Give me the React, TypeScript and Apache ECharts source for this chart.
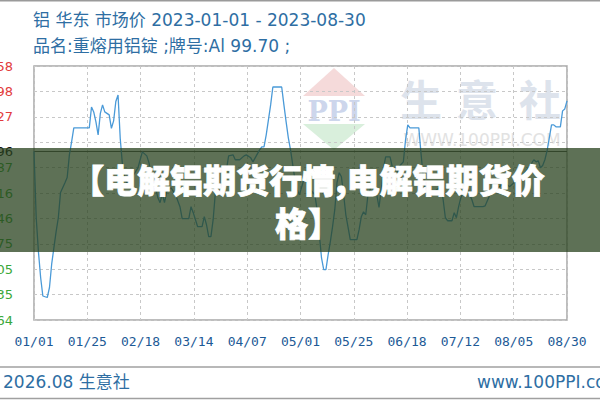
import React, { useEffect, useRef } from 'react';
import * as echarts from 'echarts';

// ---- data ----
const days = [0,1,2,3,4,6,7,8,9,10,11,12,14,15,16,17,18,25,26,27,28,29,30,31,32,34,35,36,37,38,39,40,41,42,44,45,47,48,49,51,52,53,55,56,57,58,59,60,62,64,66,67,70,71,72,74,76,77,78,79,80,81,82,84,86,87,88,90,91,93,95,96,98,99,100,102,103,104,105,106,107,108,112,113,114,115,116,117,118,119,120,122,123,124,125,127,128,130,131,132,133,134,135,136,137,138,139,140,141,143,146,147,148,149,150,151,152,153,154,155,156,157,158,159,161,162,163,164,165,167,168,169,170,174,175,176,177,178,180,182,184,185,186,187,189,190,191,192,193,194,196,197,198,199,203,204,206,208,211,213,215,217,219,220,222,224,226,227,228,229,230,231,232,233,234,235,236,238,239,240,241];
const prices = [18696,18250,18023,17849,17725,17715,17782,17940,18049,18157,18250,18420,18485,18520,18672,18759,18853,18853,18993,18960,18893,18806,18950,19007,18960,18940,18850,18900,19030,19074,18780,18605,18518,18480,18495,18538,18585,18639,18692,18665,18618,18538,18451,18384,18351,18410,18351,18424,18451,18404,18324,18244,18244,18324,18284,18190,18190,18257,18203,18123,18123,18237,18418,18465,18505,18572,18665,18672,18639,18639,18665,18672,18652,18625,18652,18705,18726,18726,18806,18906,19007,19127,19127,19007,18893,18786,18705,18605,18505,18438,18404,18505,18505,18458,18438,18404,18304,17980,17902,17902,18003,18090,18190,18304,18485,18552,18525,18404,18270,18103,18103,18170,18257,18290,18270,18404,18438,18538,18552,18404,18320,18438,18580,18659,18659,18592,18525,18552,18592,18625,18772,18873,18853,18853,18680,18525,18430,18404,18404,18438,18458,18371,18250,18230,18230,18284,18250,18324,18384,18418,18458,18404,18371,18324,18324,18330,18400,18440,18465,18485,18458,18485,18505,18525,18552,18592,18639,18625,18632,18585,18600,18639,18700,18786,18873,18873,18860,18860,18967,18980,19034];

const xTickLabels = ['01/01','01/25','02/18','03/14','04/07','05/01','05/25','06/18','07/12','08/05','08/30'];
const X_MAX = 241;
const X_STEP = 24.1;

const yTickValues = [17564,17735,17905,18075,18246,18416,18587,18757,18927,19098,19268];
const yTickLabels = ['17564','17735','17905','18075','18246','18416','18587','','18927','19098','19258'];
const pctTickLabels = ['-6.05','-5.14','-4.23','-3.32','-2.41','-1.50','-0.58','','1.24','2.15','3.06'];
const BASE_PRICE = 18696;
const BASE_PRICE_LABEL = '18696';
const BASE_PCT_LABEL = '0.00';

const titleLine1 = '铝 华东 市场价 2023-01-01 - 2023-08-30';
const titleLine2 = '品名:重熔用铝锭 ;牌号:Al 99.70 ;';
const footerLeft = '2026.08 生意社';
const footerRight = 'www.100PPI.com';
const bannerLines = ['【电解铝期货行情,电解铝期货价', '格】'];
const watermarkChars = ['生', '意', '社'];
const watermarkUrl = 'WWW.100PPI.COM';
const logoText = 'PPI';

const RED = '#e23b3b';
const GREEN = '#3aa83a';
const BLUE_TEXT = '#2e6ea3';
const LATIN_CJK = '"DejaVu Sans", "Noto Sans CJK SC", sans-serif';

function levelColor(v: number) {
  if (v > BASE_PRICE) return RED;
  if (v < BASE_PRICE) return GREEN;
  return '#111';
}

export default function App() {
  const ref = useRef<HTMLDivElement>(null);
  useEffect(() => {
    if (!ref.current) return;
    const chart = echarts.init(ref.current, undefined, { renderer: 'svg' });

    const markData: any[] = [];
    yTickValues.forEach((v, i) => {
      markData.push({
        yAxis: v,
        lineStyle: { type: [3, 3], color: '#c8c8c8', width: 1 },
        label: {
          show: yTickLabels[i] !== '',
          position: 'start',
          distance: 21,
          formatter: yTickLabels[i] || ' ',
          color: levelColor(v),
          fontFamily: '"DejaVu Sans", sans-serif',
          fontSize: 13,
        },
      });
      markData.push({
        yAxis: v,
        lineStyle: { opacity: 0, width: 0 },
        label: {
          show: pctTickLabels[i] !== '',
          position: 'end',
          distance: 6,
          formatter: pctTickLabels[i] || ' ',
          color: levelColor(v),
          fontFamily: '"DejaVu Sans Mono", monospace',
          fontSize: 13,
        },
      });
    });
    markData.push({
      yAxis: BASE_PRICE,
      lineStyle: { type: 'solid', color: '#555', width: 1 },
      label: {
        show: true, position: 'start', distance: 21, formatter: BASE_PRICE_LABEL,
        color: '#111', fontFamily: '"DejaVu Sans", sans-serif', fontSize: 13,
      },
    });
    markData.push({
      yAxis: BASE_PRICE,
      lineStyle: { opacity: 0, width: 0 },
      label: {
        show: true, position: 'end', distance: 6, formatter: BASE_PCT_LABEL,
        color: '#111', fontFamily: '"DejaVu Sans Mono", monospace', fontSize: 13,
      },
    });

    const option: any = {
      animation: false,
      backgroundColor: '#fff',
      grid: {
        left: 34, right: 33, top: 66, bottom: 80,
        show: true, borderColor: '#a8a8a8', borderWidth: 1.5, backgroundColor: 'transparent',
      },
      xAxis: {
        type: 'value', min: 0, max: X_MAX, interval: X_STEP,
        axisLine: { show: false }, axisTick: { show: false },
        splitLine: { show: true, lineStyle: { type: [3, 3], color: '#c8c8c8', width: 1 } },
        axisLabel: {
          margin: 15, color: '#1d5a96', fontSize: 13,
          fontFamily: '"DejaVu Sans Mono", monospace',
          formatter: (v: number) => xTickLabels[Math.round(v / X_STEP)] ?? '',
        },
      },
      yAxis: {
        type: 'value', min: yTickValues[0], max: yTickValues[yTickValues.length - 1],
        axisLine: { show: false }, axisTick: { show: false },
        axisLabel: { show: false }, splitLine: { show: false },
      },
      series: [{
        type: 'line',
        data: days.map((d, i) => [d, prices[i]]),
        symbol: 'none',
        lineStyle: { color: '#4a9ad8', width: 1.3 },
        z: 5,
        markLine: { silent: true, symbol: 'none', animation: false, data: markData },
      }],
      graphic: [
        { type: 'line', shape: { x1: 0, y1: 0.75, x2: 600, y2: 0.75 }, style: { stroke: '#9a9a9a', lineWidth: 1.5 }, z: 1 },
        { type: 'line', shape: { x1: 0, y1: 367, x2: 600, y2: 367 }, style: { stroke: '#a0a0a0', lineWidth: 1.5 }, z: 1 },
        { type: 'line', shape: { x1: 0, y1: 398.5, x2: 600, y2: 398.5 }, style: { stroke: '#a0a0a0', lineWidth: 1.5 }, z: 1 },
        { type: 'text', x: 33, y: 20, style: { text: titleLine1, fill: BLUE_TEXT, font: `17px ${LATIN_CJK}`, textVerticalAlign: 'middle' }, z: 1 },
        { type: 'text', x: 33, y: 46, style: { text: titleLine2, fill: BLUE_TEXT, font: `17px ${LATIN_CJK}`, textVerticalAlign: 'middle' }, z: 1 },
        { type: 'text', x: 3, y: 382, style: { text: footerLeft, fill: BLUE_TEXT, font: `17px ${LATIN_CJK}`, textVerticalAlign: 'middle' }, z: 1 },
        { type: 'text', x: 477, y: 382, style: { text: footerRight, fill: BLUE_TEXT, font: `17px ${LATIN_CJK}`, textVerticalAlign: 'middle' }, z: 1 },
        { type: 'polygon', shape: { points: [[303, 96], [334, 68], [365, 96]] }, style: { fill: '#f5dada' }, z: 0 },
        { type: 'text', x: 334, y: 111, style: { text: logoText, fill: '#cdd6ec', font: 'bold 27px "DejaVu Serif", serif', textAlign: 'center', textVerticalAlign: 'middle' }, z: 0 },
        { type: 'polygon', shape: { points: [[303, 124], [365, 124], [334, 150]] }, style: { fill: '#d9efdc' }, z: 0 },
        ...watermarkChars.map((c, i) => ({
          type: 'text', x: [421, 477, 540][i], y: 97,
          style: { text: c, fill: '#dde3ec', font: 'bold 42px "Noto Sans CJK SC", sans-serif', textAlign: 'center', textVerticalAlign: 'middle' },
          z: 0,
        })),
        { type: 'text', x: 482, y: 140, style: { text: watermarkUrl, fill: '#e2e2e2', font: '17px "DejaVu Sans", sans-serif', textAlign: 'center', textVerticalAlign: 'middle' }, z: 0 },
        { type: 'rect', shape: { x: 0, y: 148, width: 600, height: 104 }, style: { fill: 'rgba(40,65,30,0.75)' }, z: 100 },
        { type: 'text', x: 308, y: 179, style: { text: bannerLines[0], fill: '#fff', stroke: '#fff', lineWidth: 0.8, font: '900 33px "Noto Sans CJK SC", sans-serif', textAlign: 'center', textVerticalAlign: 'middle' }, z: 101 },
        { type: 'text', x: 308, y: 222, style: { text: bannerLines[1], fill: '#fff', stroke: '#fff', lineWidth: 0.8, font: '900 33px "Noto Sans CJK SC", sans-serif', textAlign: 'center', textVerticalAlign: 'middle' }, z: 101 },
      ],
    };
    chart.setOption(option);
    return () => chart.dispose();
  }, []);
  return <div ref={ref} style={{ position: 'fixed', left: 0, top: 0, width: 600, height: 400, background: '#fff' }} />;
}
